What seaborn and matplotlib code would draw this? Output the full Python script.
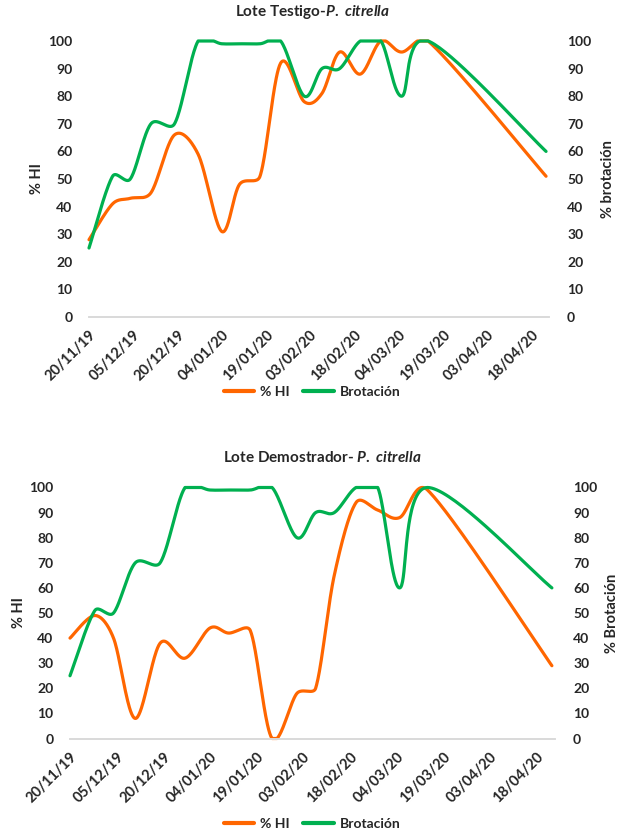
import matplotlib
matplotlib.use('Agg')
import matplotlib.pyplot as plt
import numpy as np
import pandas as pd
import seaborn as sns

sns.set_style('white')
plt.rcParams['font.family'] = ['Lato', 'DejaVu Sans']
plt.rcParams['font.weight'] = 'bold'
plt.rcParams['mathtext.fontset'] = 'custom'
plt.rcParams['mathtext.it'] = 'Lato:italic:bold'
plt.rcParams['mathtext.rm'] = 'Lato:bold'

# sampling dates (dd/mm/yyyy)
sample_dates = ['20/11/2019', '28/11/2019', '04/12/2019', '11/12/2019', '19/12/2019',
                '27/12/2019', '04/01/2020', '10/01/2020', '17/01/2020', '24/01/2020',
                '01/02/2020', '07/02/2020', '13/02/2020', '20/02/2020', '27/02/2020',
                '05/03/2020', '14/03/2020', '23/04/2020']
tick_labels = ['20/11/19', '05/12/19', '20/12/19', '04/01/20', '19/01/20', '03/02/20',
               '18/02/20', '04/03/20', '19/03/20', '03/04/20', '18/04/20']

testigo_hi = [28, 41, 43, 45, 66, 59, 31, 48, 51, 92, 78, 81, 96, 88, 100, 96, 100, 51]
testigo_brot = [25, 51, 50, 70, 70, 100, 99, 99, 99, 100, 80, 90, 90, 100, 100, 80, 100, 60]
demo_hi = [40, 49, 40, 8, 38, 32, 44, 42, 43, 0, 18, 20, 65, 94, 91, 88, 99, 29]
demo_brot = [25, 51, 50, 70, 70, 100, 99, 99, 99, 100, 80, 90, 90, 100, 100, 60, 100, 60]

ORANGE = '#FF6600'
GREEN = '#00B050'
AXIS_GRAY = '#D9D9D9'

dates = pd.to_datetime(sample_dates, format='%d/%m/%Y')
start = dates[0]
days = (dates - start).days.values.astype(float)
tick_days = (pd.to_datetime(tick_labels, format='%d/%m/%y') - start).days.values


def excel_smooth(x, y, n=40, limit=0.45):
    # Bezier smoothing like Excel's "smoothed line"; handles limited to part of the
    # segment so short segments next to long ones don't overshoot
    p = np.column_stack([x, y]).astype(float)
    pe = np.vstack([p[0], p, p[-1]])
    t = np.linspace(0, 1, n)[:, None]
    out = []
    for i in range(len(p) - 1):
        p0, p1, p2, p3 = pe[i], pe[i + 1], pe[i + 2], pe[i + 3]
        seg_len = np.hypot(*(p2 - p1))
        d1 = (p2 - p0) / 6
        d2 = (p3 - p1) / 6
        for d in (d1, d2):
            ln = np.hypot(*d)
            if ln > limit * seg_len:
                d *= limit * seg_len / ln
        c1 = p1 + d1
        c2 = p2 - d2
        seg = (1 - t) ** 3 * p1 + 3 * (1 - t) ** 2 * t * c1 + 3 * (1 - t) * t ** 2 * c2 + t ** 3 * p2
        out.append(seg if i == 0 else seg[1:])
    out = np.vstack(out)
    return out[:, 0], np.clip(out[:, 1], 0, 100)


def draw_panel(ax, hi, brot, right_label, lab_x):
    ax2 = ax.twinx()
    sx, sy = excel_smooth(days, hi)
    sns.lineplot(x=sx, y=sy, ax=ax, color=ORANGE, lw=2.3, sort=False,
                 estimator=None, legend=False)
    gx, gy = excel_smooth(days, brot)
    sns.lineplot(x=gx, y=gy, ax=ax2, color=GREEN, lw=2.3, sort=False,
                 estimator=None, legend=False)
    for a in (ax, ax2):
        a.set_ylim(0, 100)
        a.set_xlim(0, 156)
        a.set_yticks(range(0, 101, 10))
        for ln in a.lines:
            ln.set_clip_on(False)
            ln.set_solid_capstyle('round')
        for s in ('top', 'left', 'right'):
            a.spines[s].set_visible(False)
        a.spines['bottom'].set_color(AXIS_GRAY)
        a.spines['bottom'].set_linewidth(1.2)
    ax.set_xticks(tick_days)
    ax.set_xticklabels(tick_labels, rotation=45, ha='right', rotation_mode='anchor',
                       fontsize=10.5, fontweight='bold')
    ax.tick_params(axis='x', length=5, width=1, color=AXIS_GRAY, pad=3)
    ax.tick_params(axis='y', length=0, pad=12, labelsize=10)
    ax2.tick_params(axis='y', length=0, pad=13, labelsize=10)
    for lbl in ax.get_yticklabels() + ax2.get_yticklabels():
        lbl.set_fontweight('bold')
    ax.set_xlabel('')
    ax.set_ylabel('% HI', fontsize=10.5, fontweight='bold')
    ax2.set_ylabel(right_label, fontsize=10.5, fontweight='bold')
    ax.yaxis.set_label_coords(lab_x[0], 0.5)
    ax2.yaxis.set_label_coords(lab_x[1], 0.5)
    return ax2


fig = plt.figure(figsize=(6.18, 8.34), dpi=100)
W, H = 618, 834

ax_top = fig.add_axes([89 / W, 1 - 317 / H, 460 / W, 276 / H])
draw_panel(ax_top, testigo_hi, testigo_brot, '% brotación', (-0.098, 1.113))
ax_bot = fig.add_axes([70 / W, 1 - 738.5 / H, 485 / W, 251 / H])
draw_panel(ax_bot, demo_hi, demo_brot, '% Brotación', (-0.091, 1.104))

fig.text(312 / W, 1 - 12 / H, r'Lote Testigo-$\it{P.\ citrella}$', ha='center', va='center',
         fontsize=11, fontweight='bold')
fig.text(322 / W, 1 - 457 / H, r'Lote Demostrador- $\it{P.\ citrella}$', ha='center',
         va='center', fontsize=11, fontweight='bold')

handles = [plt.Line2D([], [], color=ORANGE, lw=3), plt.Line2D([], [], color=GREEN, lw=3)]
for yc in (392, 824):
    fig.legend(handles, ['% HI', 'Brotación'], loc='center', bbox_to_anchor=(312 / W, 1 - yc / H),
               ncol=2, frameon=False, handlelength=2.2, columnspacing=1.0, handletextpad=0.4,
               prop={'weight': 'bold', 'size': 10})

fig.savefig('out.png', dpi=100)
